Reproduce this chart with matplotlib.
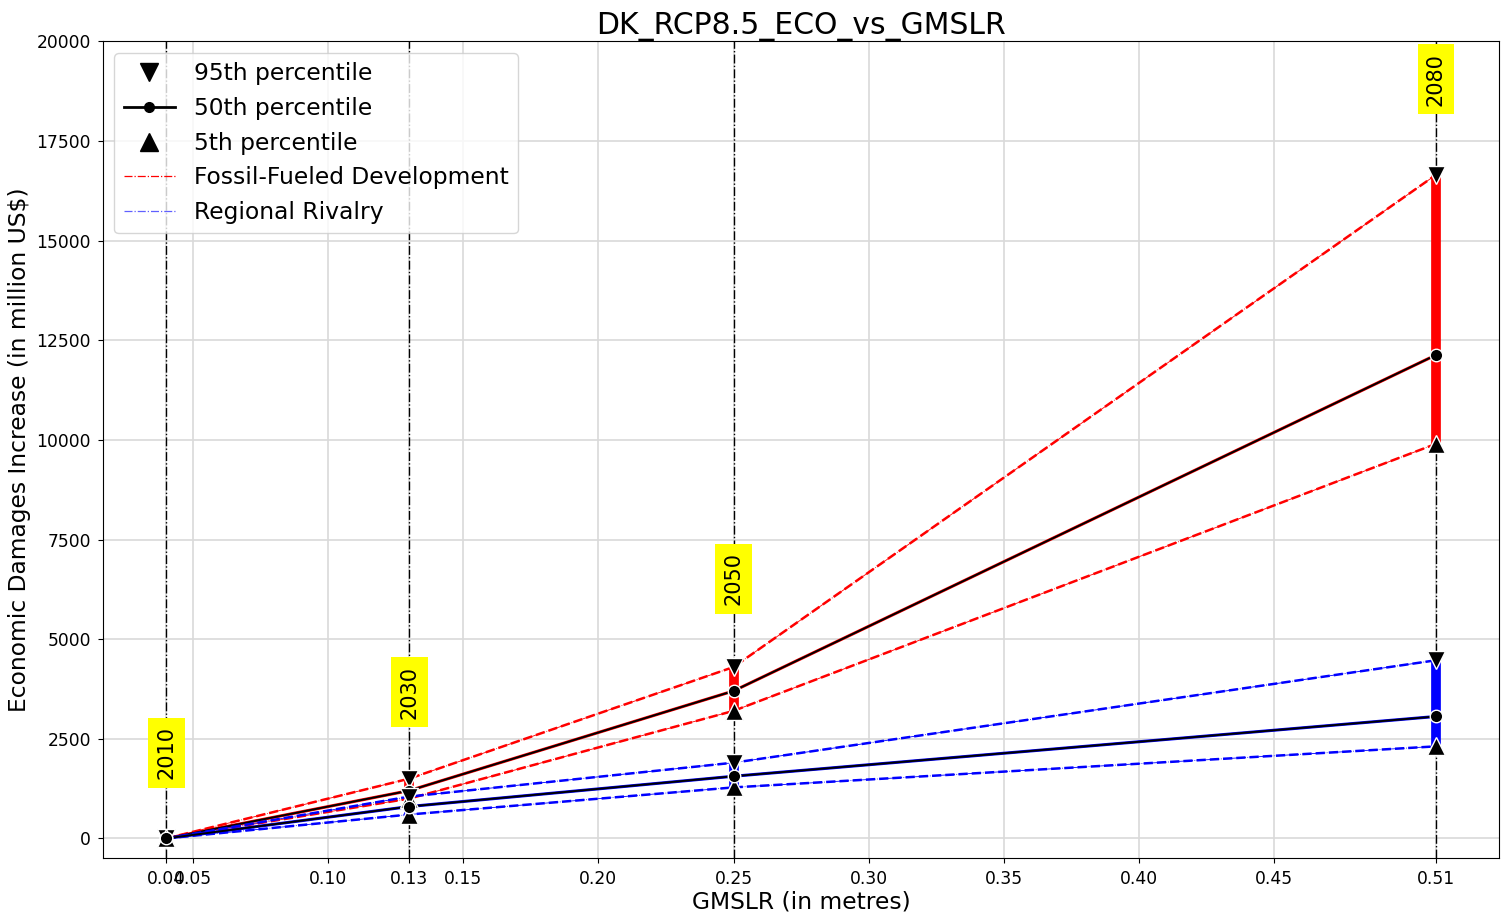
import matplotlib
matplotlib.use("Agg")
import matplotlib.pyplot as plt
from matplotlib.lines import Line2D

# --- Data ---
gmslr = [0.04, 0.13, 0.25, 0.51]
years = ["2010", "2030", "2050", "2080"]

ffd_p95 = [0, 1500, 4300, 16650]
ffd_p50 = [0, 1200, 3700, 12130]
ffd_p5 = [0, 1000, 3200, 9900]

rr_p95 = [0, 1050, 1900, 4470]
rr_p50 = [0, 800, 1560, 3060]
rr_p5 = [0, 600, 1280, 2310]

xticks = [0.04, 0.05, 0.10, 0.13, 0.15, 0.20, 0.25, 0.30, 0.35, 0.40, 0.45, 0.51]

fig = plt.figure(figsize=(15.1, 9.19), dpi=100)
ax = fig.add_axes([0.068, 0.066, 0.925, 0.889])

for x in gmslr:
    ax.axvline(x, color="black", linestyle="-.", linewidth=1.0, zorder=2)

scenarios = [
    ("Fossil-Fueled Development", "red", ffd_p95, ffd_p50, ffd_p5),
    ("Regional Rivalry", "blue", rr_p95, rr_p50, rr_p5),
]

for name, color, p95, p50, p5 in scenarios:
    # band between 5th and 95th percentiles
    ax.vlines(gmslr, p5, p95, color=color, linewidth=7, zorder=3)
    for p in (p95, p5):
        ax.plot(gmslr, p, color=color, linestyle="--", linewidth=1.8, zorder=4)
        ax.plot(gmslr, p, color=color, linestyle="-.", linewidth=0.6, zorder=4)
    ax.plot(gmslr, p50, color=color, linewidth=2.2, zorder=4)
    ax.plot(gmslr, p50, color="black", linewidth=1.4, zorder=4)
    ax.plot(gmslr, p95, linestyle="none", marker="v", markersize=13,
            color="black", markeredgecolor="white", markeredgewidth=1, zorder=5)
    ax.plot(gmslr, p5, linestyle="none", marker="^", markersize=13,
            color="black", markeredgecolor="white", markeredgewidth=1, zorder=5)
    ax.plot(gmslr, p50, linestyle="none", marker="o", markersize=9,
            color="black", markeredgecolor="white", markeredgewidth=1, zorder=5)

top = [max(a, b) for a, b in zip(ffd_p95, rr_p95)]
for x, yr, t in zip(gmslr, years, top):
    ax.text(x, t + 2150 + 0.015 * t, yr, rotation=90, ha="center", va="center",
            fontsize=15, bbox=dict(facecolor="yellow", edgecolor="none", pad=6),
            zorder=6)

ax.set_xlim(0.0165, 0.5335)
ax.set_ylim(-500, 20000)
ax.set_xticks(xticks)
ax.set_xticklabels([f"{v:.2f}" for v in xticks])
ax.set_yticks(range(0, 20001, 2500))
ax.tick_params(labelsize=12.3, pad=5)
ax.grid(True, color="#d9d9d9", linewidth=1.2)
ax.set_axisbelow(True)

ax.set_title("DK_RCP8.5_ECO_vs_GMSLR", fontsize=21.5, pad=4)
ax.set_xlabel("GMSLR (in metres)", fontsize=16.8, labelpad=2)
ax.set_ylabel("Economic Damages Increase (in million US$)", fontsize=16.8)

handles = [
    Line2D([], [], linestyle="none", marker="v", color="black", markersize=13),
    Line2D([], [], color="black", marker="o", markersize=7, linewidth=2),
    Line2D([], [], linestyle="none", marker="^", color="black", markersize=13),
    Line2D([], [], color="red", linestyle="-.", linewidth=0.9),
    Line2D([], [], color="#6060ff", linestyle="-.", linewidth=0.9),
]
labels = ["95th percentile", "50th percentile", "5th percentile",
          "Fossil-Fueled Development", "Regional Rivalry"]
ax.legend(handles, labels, loc="upper left", fontsize=16.8, handlelength=2.2)

fig.savefig("out.png", dpi=100)
